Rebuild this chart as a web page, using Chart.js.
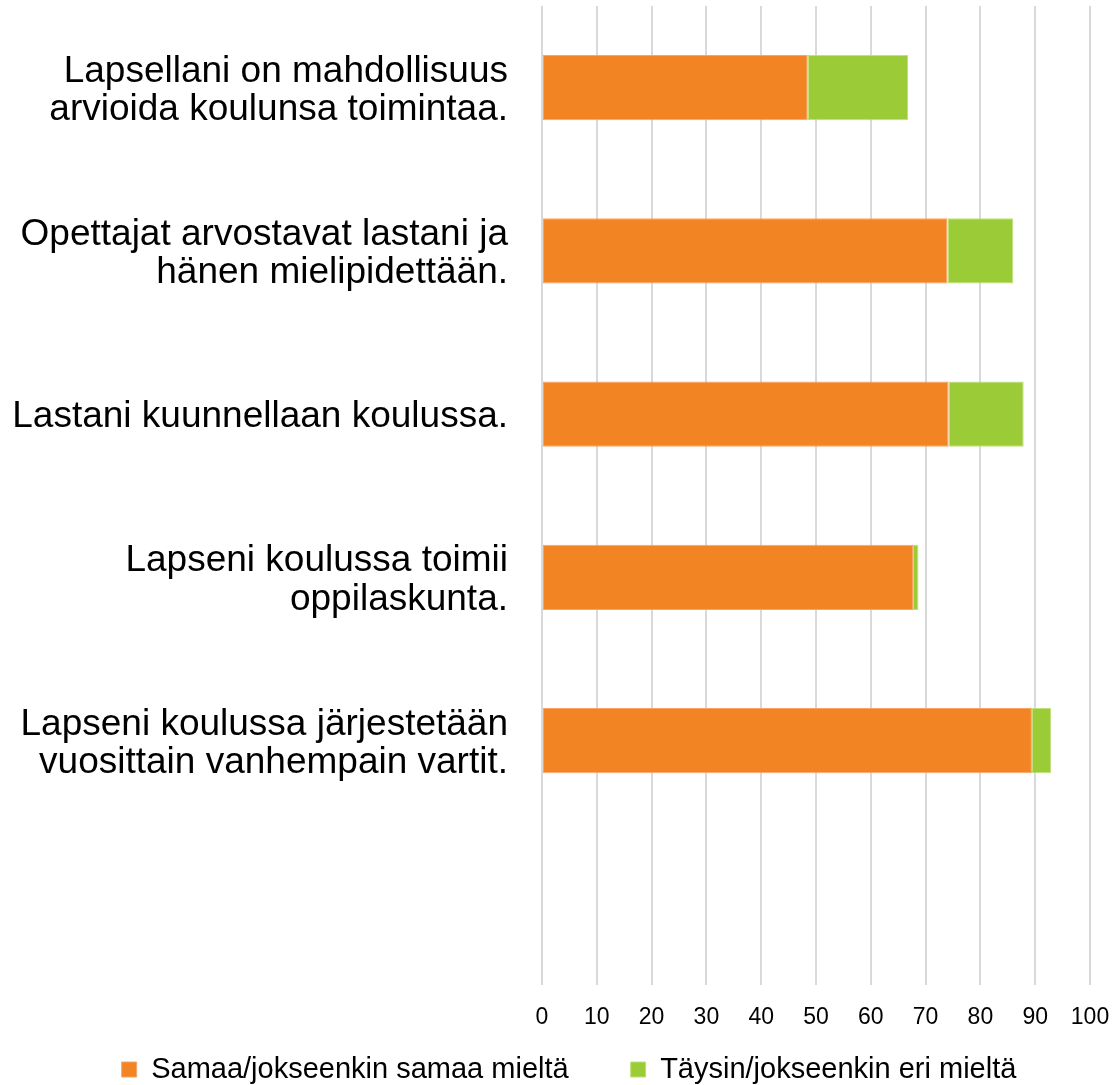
<!DOCTYPE html>
<html>
<head>
<meta charset="utf-8">
<script src="https://cdn.jsdelivr.net/npm/chart.js@4/dist/chart.umd.min.js"></script>
<style>
html,body{margin:0;padding:0;background:#fff;}
#wrap{width:1115px;height:1085px;}
</style>
</head>
<body>
<div id="wrap"><canvas id="c" width="1115" height="1085"></canvas></div>
<script>
const categories = [
  ["Lapsellani on mahdollisuus", "arvioida koulunsa toimintaa."],
  ["Opettajat arvostavat lastani ja", "hänen mielipidettään."],
  ["Lastani kuunnellaan koulussa."],
  ["Lapseni koulussa toimii", "oppilaskunta."],
  ["Lapseni koulussa järjestetään", "vuosittain vanhempain vartit."],
  [""]
];
const seriesNames = ["Samaa/jokseenkin samaa mieltä", "Täysin/jokseenkin eri mieltä"];
const agreeValues = [48.5, 74.0, 74.2, 67.7, 89.4, null];
const disagreeValues = [18.3, 12.0, 13.7, 1.0, 3.5, null];
const xTicks = [0, 10, 20, 30, 40, 50, 60, 70, 80, 90, 100];

const FONT = "'Liberation Sans', Arial, sans-serif";

function zeroPad(s) {
  s.paddingTop = 0; s.paddingBottom = 0; s.paddingLeft = 0; s.paddingRight = 0;
}

// place the legend row like the reference (wide gap between items)
const legendPlacer = {
  id: 'legendPlacer',
  afterLayout(chart) {
    const lg = chart.legend;
    if (!lg) return;
    lg.left = 48; lg.right = 1090; lg.width = lg.right - lg.left;
    lg.top = 993; lg.bottom = chart.height; lg.height = lg.bottom - lg.top;
  }
};

new Chart(document.getElementById('c'), {
  type: 'bar',
  data: {
    labels: categories,
    datasets: [
      {
        label: seriesNames[0],
        data: agreeValues,
        backgroundColor: '#F28423',
        borderColor: '#F6A565',
        borderWidth: 1,
        borderSkipped: false,
        categoryPercentage: 1,
        barPercentage: 0.4
      },
      {
        label: seriesNames[1],
        data: disagreeValues,
        backgroundColor: '#9BCC37',
        borderColor: '#BFE07A',
        borderWidth: 1,
        borderSkipped: false,
        categoryPercentage: 1,
        barPercentage: 0.4
      }
    ]
  },
  plugins: [legendPlacer],
  options: {
    indexAxis: 'y',
    responsive: false,
    animation: false,
    devicePixelRatio: 1,
    layout: { padding: { top: 6, right: 25, left: 0, bottom: 0 } },
    scales: {
      x: {
        stacked: true,
        min: xTicks[0],
        max: xTicks[xTicks.length - 1],
        afterBuildTicks: s => { s.ticks = xTicks.map(v => ({ value: v })); },
        afterFit: s => { zeroPad(s); },
        grid: { color: '#D9D9D9', lineWidth: 2, drawTicks: false },
        border: { display: false },
        ticks: { color: '#000', font: { family: FONT, size: 23 }, padding: 18, maxRotation: 0 }
      },
      y: {
        stacked: true,
        afterFit: s => { s.width = 542; zeroPad(s); },
        grid: { display: false, drawTicks: false },
        border: { display: false },
        ticks: { color: '#000', font: { family: FONT, size: 37, lineHeight: 1.04 }, padding: 34, labelOffset: 3, autoSkip: false }
      }
    },
    plugins: {
      legend: {
        position: 'bottom',
        maxHeight: 36,
        labels: {
          color: '#000',
          font: { family: FONT, size: 29 },
          boxWidth: 15,
          boxHeight: 15,
          padding: 62
        }
      },
      tooltip: { enabled: false }
    }
  }
});
</script>
</body>
</html>
